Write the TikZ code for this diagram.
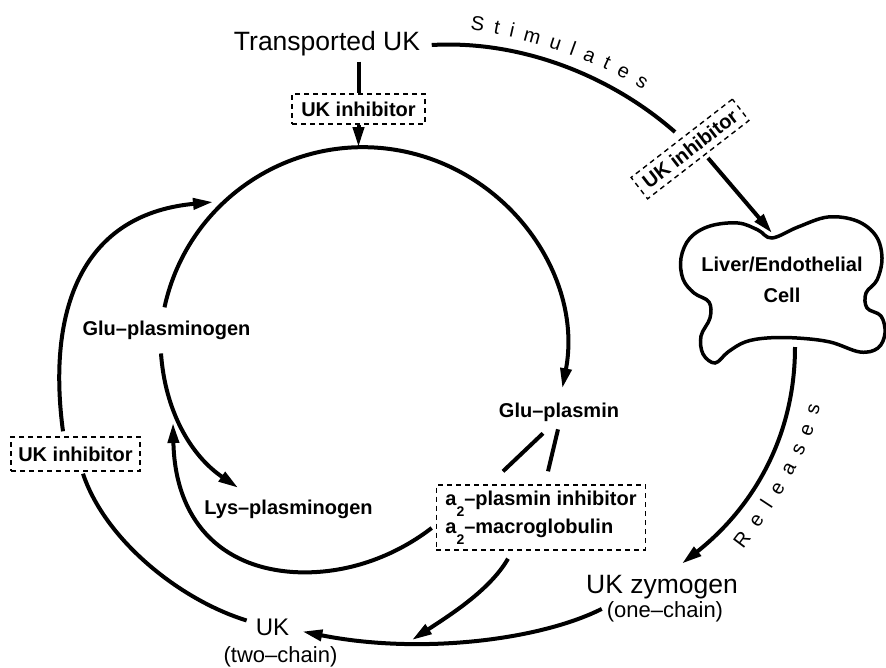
\documentclass[tikz,border=0pt]{standalone}
\usepackage{fontspec}
\setmainfont{Liberation Sans}
\usetikzlibrary{arrows.meta,calc,decorations.text}
\newcommand{\mysubtwo}{\raisebox{-11pt}{\fontsize{14}{14}\selectfont 2}}
\tikzset{
  ln/.style={line width=4pt},
  tip/.style={-{Triangle[length=20pt,width=11pt]}},
  dbox/.style={draw, line width=1.4pt, dash pattern=on 5pt off 4pt, inner sep=0pt},
  lab/.style={inner sep=0pt, font=\fontsize{20}{28}\selectfont\bfseries},
  big/.style={inner sep=0pt, font=\fontsize{26.5}{30}\selectfont},
  paren/.style={inner sep=0pt, font=\fontsize{22}{24}\selectfont},
  curvetext/.style={decorate, decoration={text along path, text={|\fontsize{20}{20}\selectfont|#1}, text align={fit to path}}},
}
\begin{document}
\begin{tikzpicture}[x=1pt,y=-1pt]
\useasboundingbox (0,0) rectangle (886,667);

% nodes
\node[big, anchor=base] (tuk) at (327,50) {Transported UK};
\node[dbox, lab, minimum width=133pt, minimum height=30pt] (inhtop) at (358.5,109) {UK inhibitor};
\node[lab, anchor=base] (gpg) at (166.5,335) {Glu–plasminogen};
\node[lab, anchor=base] (lys) at (288.5,514) {Lys–plasminogen};
\node[lab, anchor=base] (gp) at (559,417) {Glu–plasmin};
\node[dbox, lab, align=left, minimum width=208pt, minimum height=65pt, inner xsep=9pt] (a2) at (541,517.5)
  {a\mysubtwo–plasmin inhibitor\\a\mysubtwo–macroglobulin};
\node[dbox, lab, minimum width=129pt, minimum height=34pt] (inhl) at (75.5,454) {UK inhibitor};
\node[dbox, lab, minimum width=128pt, minimum height=27pt, rotate=37.7] (inhrot) at (690,149) {UK inhibitor};
\node[lab, align=center] (cell) at (782,280) {Liver/Endothelial\\[3pt]Cell};
\node[big, anchor=base] (ukz) at (662,593) {UK zymogen};
\node[paren, anchor=base] (onec) at (665,617) {(one–chain)};
\node[inner sep=0pt, font=\fontsize{24}{26}\selectfont, anchor=base] (uk) at (272.5,635) {UK};
\node[paren, anchor=base] (twoc) at (280.5,662) {(two–chain)};

% cell outline
\draw[line width=3.5pt] plot[smooth cycle, tension=0.6] coordinates {
 (772,238) (798,227) (828,217) (857,221) (876,236) (882,258) (877,280) (866,293)
 (867,308) (881,316) (885,333) (878,348) (860,352) (830,342) (797,338) (767,338)
 (745,342) (728,352) (715,363) (703,354) (701,336) (710,318) (709,302) (694,293)
 (683,279) (681,258) (690,238) (710,226) (738,223) (758,230)};

% free ends
\coordinate (ctop) at (358.5,147);
\coordinate (cleft) at ($(gpg.north)+(-2,-13)$);
\coordinate (glutarget) at (173,423);
\coordinate (bmeet) at (412,640);
\coordinate (cin) at (213,202);
\coordinate (blobtop) at (772,233);
\coordinate (blobbot) at (795,347);

% connectors
\draw[ln, shorten <=6pt] (tuk.south -| inhtop.north) -- (inhtop.north);
\draw[ln, tip] (inhtop.south) -- (ctop);
\draw[ln, tip] (cleft) arc[start angle=192.2, end angle=370.8, radius=203];
\draw[ln, tip] ($(gpg.south)+(-5.5,14)$) .. controls (165,410) and (190,455) .. ($(lys.north west)+(34,-11.5)$);
\draw[ln, tip] ($(a2.west)+(-4,10.5)$) .. controls (390,560) and (340,575) .. (293,572)
  .. controls (220,567) and (175,520) .. (glutarget);
\draw[ln] ($(gp.south)+(-16,12)$) -- ($(a2.north)+(-38,-13)$);
\draw[ln] ($(gp.south)+(-1,8)$) -- ($(a2.north)+(7,-13)$);
\draw[ln, tip] ($(a2.south)+(-33,8)$) .. controls (490,590) and (450,615) .. (bmeet);
\draw[ln, tip] ($(onec.west)+(-5,-2.4)$) .. controls (540,640) and (420,655) .. ($(uk.east)+(13,4.6)$);
\draw[ln] ($(uk.west)+(-9,-6.4)$) .. controls (180,600) and (105,540) .. ($(inhl.south)+(7.5,2)$);
\draw[ln, tip] ($(inhl.north)+(-12.5,-5)$) .. controls (48,320) and (75,215) .. (cin);
\draw[ln] ($(tuk.base east)+(11.5,-5)$) .. controls (520,40) and (610,75) .. ($(inhrot.center)+(-15,-17)$);
\draw[ln, tip] ($(inhrot.center)+(18,9)$) -- (blobtop);
\draw[ln, tip] (blobbot) .. controls (795,440) and (750,510) .. ($(ukz.north)+(20,-11)$);

% curved labels
\path[curvetext=Stimulates] (470,30) .. controls (530,38) and (598,61) .. (643,90);
\path[curvetext=Releases] (743,549) .. controls (776,506) and (811,451) .. (820,406);
\end{tikzpicture}
\end{document}
